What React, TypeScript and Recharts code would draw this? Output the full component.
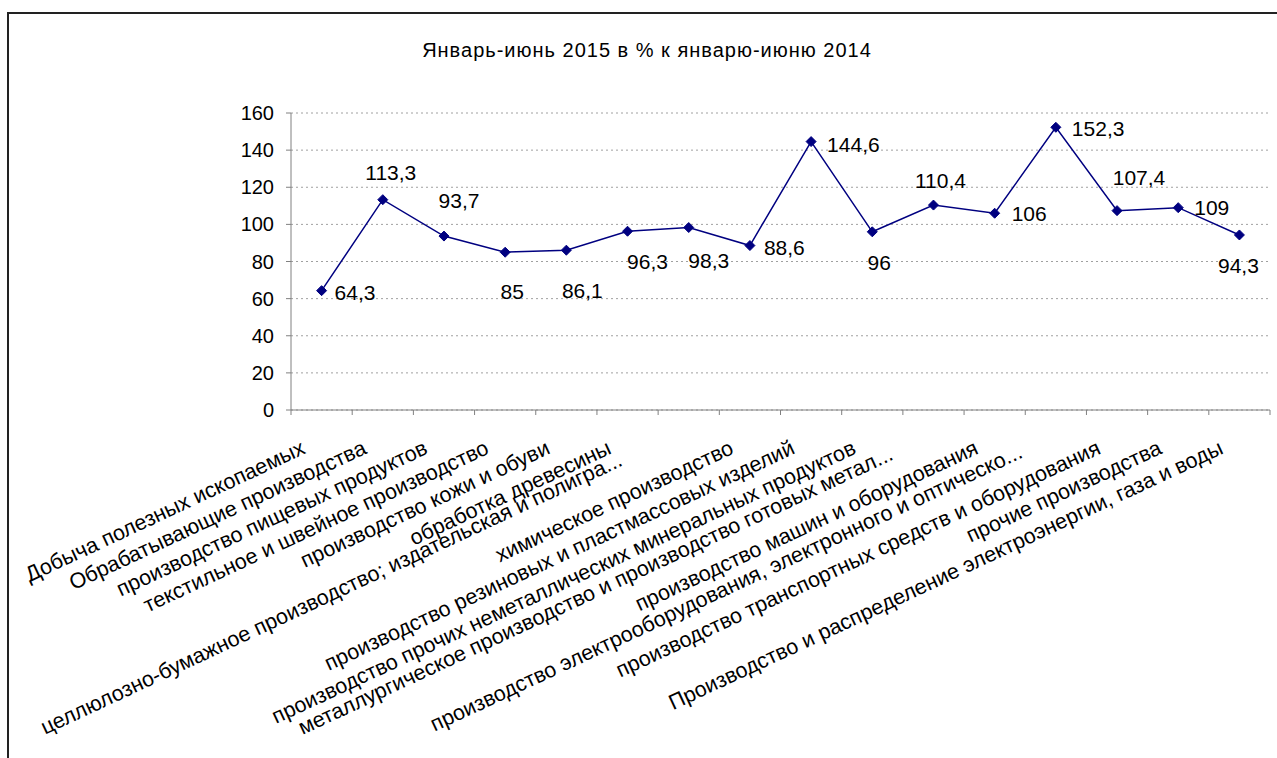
import React from 'react';
import { LineChart, Line, XAxis, YAxis, CartesianGrid, LabelList } from 'recharts';

const CATEGORIES = [
  'Добыча полезных ископаемых',
  'Обрабатывающие производства',
  'производство пищевых продуктов',
  'текстильное и швейное производство',
  'производство кожи и обуви',
  'обработка древесины',
  'целлюлозно-бумажное производство; издательская и полигра...',
  'химическое производство',
  'производство резиновых и пластмассовых изделий',
  'производство прочих неметаллических минеральных продуктов',
  'металлургическое производство и производство готовых метал...',
  'производство машин и оборудования',
  'производство электрооборудования, электронного и оптическо...',
  'производство транспортных средств и оборудования',
  'прочие производства',
  'Производство и распределение электроэнергии, газа и воды',
];

const VALUES = [64.3, 113.3, 93.7, 85, 86.1, 96.3, 98.3, 88.6, 144.6, 96, 110.4, 106, 152.3, 107.4, 109, 94.3];

const Y_TICKS = [0, 20, 40, 60, 80, 100, 120, 140, 160];

const TITLE = 'Январь-июнь 2015 в % к январю-июню 2014';

const data = CATEGORIES.map((name, i) => ({ name, value: VALUES[i] }));

// value-label placement (style only)
const LABEL_PLACEMENT = [
  { a: 'start', dx: 13, dy: 2 },
  { a: 'middle', dx: 8, dy: -27 },
  { a: 'middle', dx: 15, dy: -35 },
  { a: 'middle', dx: 7, dy: 39 },
  { a: 'middle', dx: 16, dy: 40 },
  { a: 'middle', dx: 20, dy: 30 },
  { a: 'middle', dx: 20, dy: 33 },
  { a: 'start', dx: 14, dy: 2 },
  { a: 'start', dx: 16, dy: 3 },
  { a: 'middle', dx: 7, dy: 31 },
  { a: 'middle', dx: 7, dy: -24 },
  { a: 'start', dx: 17, dy: 0 },
  { a: 'start', dx: 16, dy: 1 },
  { a: 'middle', dx: 22, dy: -33 },
  { a: 'start', dx: 16, dy: 0 },
  { a: 'middle', dx: -1, dy: 31 },
];

// extra shift of truncated category labels (style only)
const TICK_SHIFT: Record<number, [number, number]> = {
  6: [-50, 12],
  10: [-24, 6],
  12: [-17, 4],
};

const W = 1277;
const H = 758;
const M = { top: 113, right: 7, left: 231, bottom: 48 };
const Y_AXIS_W = 60;
const X_AXIS_H = 300;
const PLOT_W = W - M.left - M.right - Y_AXIS_W;
const BAND = PLOT_W / CATEGORIES.length;
const FONT = '"Liberation Sans", Arial, sans-serif';
const AXIS_COLOR = '#808080';

const CatTick = (props: any) => {
  const { x, y, payload, index } = props;
  const sh = TICK_SHIFT[index] || [0, 0];
  const tx = x - 15 + sh[0];
  const ty = y + 43 + sh[1];
  return (
    <g>
      <line x1={x - BAND / 2} x2={x - BAND / 2} y1={y} y2={y + 5} stroke={AXIS_COLOR} />
      {index === CATEGORIES.length - 1 && (
        <line x1={x + BAND / 2} x2={x + BAND / 2} y1={y} y2={y + 5} stroke={AXIS_COLOR} />
      )}
      <text
        x={tx}
        y={ty}
        textAnchor="end"
        transform={`rotate(-25, ${tx}, ${ty})`}
        fontSize={21.5}
        fontFamily={FONT}
        fill="#000"
      >
        {payload.value}
      </text>
    </g>
  );
};

const Diamond = (props: any) => {
  const { cx, cy } = props;
  if (cx == null || cy == null) return null;
  const r = 5;
  return (
    <polygon
      points={`${cx},${cy - r} ${cx + r},${cy} ${cx},${cy + r} ${cx - r},${cy}`}
      fill="#000080"
      stroke="#000080"
    />
  );
};

const ValueLabel = (props: any) => {
  const { x, y, value, index } = props;
  const p = LABEL_PLACEMENT[index] || { a: 'middle', dx: 0, dy: -20 };
  return (
    <text
      x={x + p.dx}
      y={y + p.dy}
      dy="0.35em"
      textAnchor={p.a}
      fontSize={21}
      fontFamily={FONT}
      fill="#000"
    >
      {String(value).replace('.', ',')}
    </text>
  );
};

export default function App() {
  return (
    <div style={{ position: 'absolute', left: 0, top: 0, width: W, height: H, background: '#fff' }}>
      <div
        style={{
          position: 'absolute',
          left: 7,
          top: 12,
          width: W - 7,
          height: H - 12,
          borderLeft: '2px solid #222',
          borderTop: '2px solid #222',
        }}
      />
      <div
        style={{
          position: 'absolute',
          left: 147,
          width: 1000,
          top: 39,
          textAlign: 'center',
          fontFamily: FONT,
          fontSize: 20,
          letterSpacing: '1px',
          lineHeight: '22px',
          color: '#000',
        }}
      >
        {TITLE}
      </div>
      <div style={{ position: 'absolute', left: 0, top: 0 }}>
        <LineChart width={W} height={H} data={data} margin={M}>
          <CartesianGrid vertical={false} stroke="#a0a0a0" strokeDasharray="2 3" />
          <XAxis
            dataKey="name"
            scale="band"
            interval={0}
            height={X_AXIS_H}
            tickLine={false}
            tickSize={0}
            tickMargin={0}
            axisLine={{ stroke: AXIS_COLOR }}
            tick={<CatTick />}
          />
          <XAxis
            xAxisId="top"
            dataKey="name"
            scale="band"
            orientation="top"
            height={0}
            tick={false}
            tickLine={false}
            axisLine={{ stroke: AXIS_COLOR }}
          />
          <YAxis
            domain={[0, 160]}
            ticks={Y_TICKS}
            width={Y_AXIS_W}
            tickSize={5}
            tickMargin={12}
            axisLine={{ stroke: AXIS_COLOR }}
            tickLine={{ stroke: AXIS_COLOR }}
            tick={{ fontSize: 20, fontFamily: FONT, fill: '#000' }}
            interval={0}
          />
          <YAxis
            yAxisId="r"
            orientation="right"
            domain={[0, 160]}
            width={0}
            tick={false}
            tickLine={false}
            axisLine={{ stroke: AXIS_COLOR }}
          />
          <Line
            type="linear"
            dataKey="value"
            stroke="#000080"
            strokeWidth={1.5}
            dot={<Diamond />}
            activeDot={false}
            isAnimationActive={false}
          >
            <LabelList dataKey="value" content={<ValueLabel />} />
          </Line>
        </LineChart>
      </div>
    </div>
  );
}
